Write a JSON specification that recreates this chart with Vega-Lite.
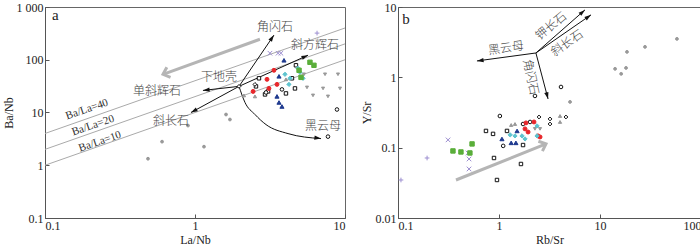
{
  "$schema": "https://vega.github.io/schema/vega-lite/v6.json",
  "padding": {"left": 1, "top": 0, "right": 0, "bottom": 0},
  "background": "white",
  "config": {
    "view": {"stroke": "#666", "strokeWidth": 1},
    "font": "Liberation Serif",
    "axis": {"domainColor": "#555", "tickColor": "#555", "grid": false, "labelFont": "Liberation Serif", "labelFontSize": 12, "labelColor": "#222", "titleFont": "Liberation Serif", "titleFontSize": 12, "titleFontWeight": "normal", "titleColor": "#222", "tickSize": -4, "labelPadding": 7, "labelFlush": false},
    "axisX": {"labelFlush": true, "labelPadding": 6, "titlePadding": 3}
  },
  "datasets": {
    "lines_a": [
      {"k": "40", "x": 0.1, "y": 4}, {"k": "40", "x": 10, "y": 400},
      {"k": "20", "x": 0.1, "y": 2}, {"k": "20", "x": 10, "y": 200},
      {"k": "10", "x": 0.1, "y": 1}, {"k": "10", "x": 10, "y": 100}
    ],
    "ratio_labels": [
      {"t": "Ba/La=40", "x": 0.1905, "y": 11.4},
      {"t": "Ba/La=20", "x": 0.209, "y": 5.65},
      {"t": "Ba/La=10", "x": 0.2326, "y": 2.8}
    ],
    "garrow_a": [{"o": 0, "x": 2.71, "y": 245}, {"o": 1, "x": 0.612, "y": 53}],
    "ghead_a": [{"x": 0.612, "y": 53, "a": -110}],
    "arrows_a": [
      {"id": "hb", "o": 0, "x": 1.965, "y": 31.3}, {"id": "hb", "o": 1, "x": 3.36, "y": 293},
      {"id": "opx", "o": 0, "x": 1.965, "y": 31.3}, {"id": "opx", "o": 1, "x": 5.67, "y": 122},
      {"id": "cpx", "o": 0, "x": 1.965, "y": 31.3}, {"id": "cpx", "o": 1, "x": 1.13, "y": 26.2},
      {"id": "pl", "o": 0, "x": 1.965, "y": 31.3}, {"id": "pl", "o": 1, "x": 0.94, "y": 10.0}
    ],
    "curve_a": [
      {"o": 0, "x": 1.965, "y": 31.3}, {"o": 1, "x": 2.154, "y": 15.5}, {"o": 2, "x": 2.512, "y": 9.16},
      {"o": 3, "x": 2.975, "y": 5.9}, {"o": 4, "x": 4.17, "y": 3.98}, {"o": 5, "x": 6.92, "y": 3.2}
    ],
    "heads_a": [
      {"x": 3.36, "y": 293, "a": 34.5},
      {"x": 5.67, "y": 122, "a": 66},
      {"x": 1.13, "y": 26.2, "a": -96},
      {"x": 0.94, "y": 10.0, "a": -118},
      {"x": 6.92, "y": 3.2, "a": 98}
    ],
    "labels_a": [
      {"t": "角闪石", "x": 3.41, "y": 416, "a": 0},
      {"t": "斜方辉石", "x": 6.31, "y": 189, "a": 0},
      {"t": "单斜辉石", "x": 0.558, "y": 25.1, "a": 0},
      {"t": "斜长石", "x": 0.692, "y": 7.05, "a": 0},
      {"t": "下地壳", "x": 1.445, "y": 46.4, "a": 0},
      {"t": "黑云母", "x": 7.14, "y": 5.65, "a": 0}
    ],
    "letter_a": [{"t": "a", "x": 0.117, "y": 705}],
    "pa": [
      {"s": "gray_dot", "x": 0.486, "y": 1.33}, {"s": "gray_dot", "x": 0.603, "y": 2.8}, {"s": "gray_dot", "x": 0.898, "y": 5.65},
      {"s": "gray_dot", "x": 1.148, "y": 2.25}, {"s": "gray_dot", "x": 1.61, "y": 9.16}, {"s": "gray_dot", "x": 1.71, "y": 7.36},
      {"s": "gray_down", "x": 5.33, "y": 53}, {"s": "gray_down", "x": 7.36, "y": 53}, {"s": "gray_down", "x": 8.98, "y": 53},
      {"s": "gray_down", "x": 5.58, "y": 29.9}, {"s": "gray_down", "x": 7.14, "y": 28.6}, {"s": "gray_down", "x": 9.26, "y": 28.6},
      {"s": "gray_down", "x": 6.12, "y": 21.1}, {"s": "gray_down", "x": 7.7, "y": 20.2},
      {"s": "gray_up", "x": 2.12, "y": 21.1}, {"s": "gray_up", "x": 2.51, "y": 20.2}, {"s": "gray_up", "x": 4.04, "y": 42.5},
      {"s": "open_square", "x": 2.67, "y": 44.5}, {"s": "open_square", "x": 4.71, "y": 78.5}, {"s": "open_square", "x": 4.43, "y": 44.5},
      {"s": "open_square", "x": 2.55, "y": 31.3}, {"s": "open_square", "x": 2.93, "y": 22.0}, {"s": "open_square", "x": 3.07, "y": 25.1},
      {"s": "open_square", "x": 4.04, "y": 23.0}, {"s": "open_square", "x": 4.64, "y": 28.6},
      {"s": "open_circle", "x": 2.975, "y": 24.0}, {"s": "open_circle", "x": 3.8, "y": 27.4}, {"s": "open_circle", "x": 8.84, "y": 11.4},
      {"s": "open_circle", "x": 7.7, "y": 3.49},
      {"s": "open_diamond", "x": 1.965, "y": 31.3}, {"s": "open_diamond", "x": 2.51, "y": 34.1},
      {"s": "red", "x": 3.36, "y": 63.1}, {"s": "red", "x": 3.02, "y": 42.5}, {"s": "red", "x": 2.44, "y": 25.1},
      {"s": "red", "x": 3.11, "y": 28.6}, {"s": "red", "x": 3.52, "y": 34.1},
      {"s": "navy", "x": 3.92, "y": 97.7}, {"s": "navy", "x": 3.63, "y": 48.5}, {"s": "navy", "x": 3.52, "y": 20.2},
      {"s": "navy", "x": 3.63, "y": 15.5}, {"s": "navy", "x": 3.8, "y": 13.0},
      {"s": "cyan", "x": 3.98, "y": 53}, {"s": "cyan", "x": 4.3, "y": 44.5}, {"s": "cyan", "x": 4.23, "y": 34.1},
      {"s": "cyan", "x": 5.01, "y": 57.8}, {"s": "cyan", "x": 4.86, "y": 68.9}, {"s": "cyan", "x": 5.25, "y": 44.5},
      {"s": "green", "x": 5.84, "y": 89.5}, {"s": "green", "x": 6.21, "y": 78.5}, {"s": "green", "x": 4.94, "y": 63.1}, {"s": "green", "x": 5.09, "y": 46.4},
      {"s": "purple_x", "x": 3.16, "y": 133}, {"s": "purple_x", "x": 3.58, "y": 133}, {"s": "purple_x", "x": 3.74, "y": 133},
      {"s": "purple_plus", "x": 6.51, "y": 320}
    ],
    "garrow_b": [{"o": 0, "x": 0.375, "y": 0.0347}, {"o": 1, "x": 2.92, "y": 0.113}],
    "ghead_b": [{"x": 2.92, "y": 0.113, "a": 68}],
    "arrows_b": [
      {"id": "bt", "o": 0, "x": 2.32, "y": 2.22}, {"id": "bt", "o": 1, "x": 0.605, "y": 1.71},
      {"id": "kf", "o": 0, "x": 2.32, "y": 2.22}, {"id": "kf", "o": 1, "x": 7.1, "y": 9.1},
      {"id": "pl", "o": 0, "x": 2.32, "y": 2.22}, {"id": "pl", "o": 1, "x": 8.15, "y": 7.73},
      {"id": "hb", "o": 0, "x": 2.32, "y": 2.22}, {"id": "hb", "o": 1, "x": 3.06, "y": 0.493}
    ],
    "heads_b": [
      {"x": 0.605, "y": 1.71, "a": -98},
      {"x": 7.1, "y": 9.1, "a": 49},
      {"x": 8.15, "y": 7.73, "a": 55},
      {"x": 3.06, "y": 0.493, "a": 165}
    ],
    "labels_b": [
      {"t": "黑云母", "x": 1.173, "y": 2.62, "a": -8},
      {"t": "钾长石", "x": 3.27, "y": 5.38, "a": -40},
      {"t": "斜长石", "x": 4.71, "y": 3.08, "a": -35},
      {"t": "角闪石", "x": 2.07, "y": 1.01, "a": 78}
    ],
    "letter_b": [{"t": "b", "x": 0.12, "y": 6.78}],
    "pb": [
      {"s": "gray_dot", "x": 57.8, "y": 3.52}, {"s": "gray_dot", "x": 27.9, "y": 2.71}, {"s": "gray_dot", "x": 18.5, "y": 2.3},
      {"s": "gray_dot", "x": 18.1, "y": 1.36}, {"s": "gray_dot", "x": 16.2, "y": 1.12}, {"s": "gray_dot", "x": 14.1, "y": 1.32},
      {"s": "gray_dot", "x": 5.05, "y": 0.447},
      {"s": "open_circle", "x": 1.02, "y": 0.282}, {"s": "open_circle", "x": 2.27, "y": 0.544}, {"s": "open_circle", "x": 4.11, "y": 0.73},
      {"s": "open_circle", "x": 1.1, "y": 0.106}, {"s": "open_circle", "x": 2.03, "y": 0.232}, {"s": "open_circle", "x": 1.73, "y": 0.217},
      {"s": "open_diamond", "x": 2.49, "y": 0.273}, {"s": "open_diamond", "x": 3.2, "y": 0.256}, {"s": "open_diamond", "x": 3.2, "y": 0.217},
      {"s": "open_diamond", "x": 4.6, "y": 0.273},
      {"s": "gray_up", "x": 1.32, "y": 0.21}, {"s": "gray_up", "x": 1.44, "y": 0.217}, {"s": "gray_up", "x": 4.02, "y": 0.282}, {"s": "gray_up", "x": 4.02, "y": 0.232},
      {"s": "gray_down", "x": 2.27, "y": 0.185}, {"s": "gray_down", "x": 2.55, "y": 0.185},
      {"s": "red", "x": 1.85, "y": 0.225}, {"s": "red", "x": 2.22, "y": 0.232}, {"s": "red", "x": 1.81, "y": 0.185},
      {"s": "red", "x": 1.94, "y": 0.167}, {"s": "red", "x": 2.43, "y": 0.147}, {"s": "red", "x": 2.55, "y": 0.142},
      {"s": "cyan", "x": 2.38, "y": 0.204}, {"s": "cyan", "x": 1.69, "y": 0.147}, {"s": "cyan", "x": 1.81, "y": 0.133},
      {"s": "cyan", "x": 1.44, "y": 0.147}, {"s": "cyan", "x": 1.29, "y": 0.152}, {"s": "cyan", "x": 2.38, "y": 0.147},
      {"s": "navy", "x": 1.07, "y": 0.133}, {"s": "navy", "x": 1.51, "y": 0.173}, {"s": "navy", "x": 1.32, "y": 0.117}, {"s": "navy", "x": 1.47, "y": 0.117},
      {"s": "open_square", "x": 0.743, "y": 0.173}, {"s": "open_square", "x": 0.873, "y": 0.157}, {"s": "open_square", "x": 1.2, "y": 0.173},
      {"s": "open_square", "x": 1.73, "y": 0.109}, {"s": "open_square", "x": 0.892, "y": 0.0713}, {"s": "open_square", "x": 0.955, "y": 0.0347},
      {"s": "open_square", "x": 1.65, "y": 0.0586},
      {"s": "purple_x", "x": 0.313, "y": 0.129}, {"s": "purple_x", "x": 0.493, "y": 0.0841}, {"s": "purple_x", "x": 0.505, "y": 0.069},
      {"s": "purple_x", "x": 0.505, "y": 0.0498},
      {"s": "purple_plus", "x": 0.194, "y": 0.0713}, {"s": "purple_plus", "x": 0.107, "y": 0.0347},
      {"s": "green", "x": 0.541, "y": 0.113}, {"s": "green", "x": 0.35, "y": 0.0898}, {"s": "green", "x": 0.42, "y": 0.0869}, {"s": "green", "x": 0.515, "y": 0.0841}
    ]
  },
  "hconcat": [
    {
      "width": 300,
      "height": 211,
      "encoding": {
        "x": {"field": "x", "type": "quantitative", "scale": {"type": "log", "domain": [0.1, 10], "nice": false}, "axis": {"title": "La/Nb", "values": [0.1, 1, 10], "format": "~g"}},
        "y": {"field": "y", "type": "quantitative", "scale": {"type": "log", "domain": [0.1, 1000], "nice": false}, "axis": {"title": "Ba/Nb", "values": [0.1, 1, 10, 100, 1000], "format": "~g", "labelExpr": "datum.value >= 1000 ? '1 000' : datum.label", "titlePadding": 1, "labelPadding": 6}}
      },
      "layer": [
        {"data": {"name": "lines_a"}, "mark": {"type": "line", "color": "#aaaaaa", "strokeWidth": 1}, "encoding": {"detail": {"field": "k"}}},
        {"data": {"name": "ratio_labels"}, "mark": {"type": "text", "angle": -19, "font": "Liberation Serif", "fontSize": 11, "color": "#333"}, "encoding": {"text": {"field": "t"}}},
        {"data": {"name": "garrow_a"}, "mark": {"type": "line", "color": "#b5b5b5", "strokeWidth": 3}, "encoding": {"order": {"field": "o"}}},
        {"data": {"name": "ghead_a"}, "mark": {"type": "point", "shape": "M-0.8,0.9L0,0L0.8,0.9", "filled": false, "color": "#b5b5b5", "strokeWidth": 3, "size": 180, "opacity": 1}, "encoding": {"angle": {"field": "a", "type": "quantitative", "scale": null}}},
        {"data": {"name": "arrows_a"}, "mark": {"type": "line", "color": "#111", "strokeWidth": 1}, "encoding": {"detail": {"field": "id"}, "order": {"field": "o"}}},
        {"data": {"name": "curve_a"}, "mark": {"type": "line", "color": "#111", "strokeWidth": 1, "interpolate": "monotone"}, "encoding": {"order": {"field": "o"}}},
        {"data": {"name": "heads_a"}, "mark": {"type": "point", "shape": "M0,0L-0.45,1.4L0.45,1.4Z", "filled": true, "color": "#111", "size": 90, "opacity": 1}, "encoding": {"angle": {"field": "a", "type": "quantitative", "scale": null}}},
        {"data": {"name": "pa"}, "mark": {"type": "point", "filled": true, "opacity": 1, "strokeWidth": 1},
          "encoding": {
            "shape": {"field": "s", "type": "nominal", "legend": null, "scale": {"domain": ["gray_dot", "gray_down", "gray_up", "open_square", "open_circle", "open_diamond", "red", "navy", "cyan", "green", "purple_x", "purple_plus"], "range": ["circle", "triangle-down", "triangle-up", "square", "circle", "diamond", "circle", "triangle-up", "diamond", "square", "M-1,-1L1,1M-1,1L1,-1", "M-1,0L1,0M0,-1L0,1"]}},
            "fill": {"field": "s", "type": "nominal", "legend": null, "scale": {"domain": ["gray_dot", "gray_down", "gray_up", "open_square", "open_circle", "open_diamond", "red", "navy", "cyan", "green", "purple_x", "purple_plus"], "range": ["#999999", "#999999", "#999999", "#ffffff", "#ffffff", "#ffffff", "#e8262a", "#1f3a8f", "#5ec4cf", "#5aae3a", "transparent", "transparent"]}},
            "stroke": {"field": "s", "type": "nominal", "legend": null, "scale": {"domain": ["gray_dot", "gray_down", "gray_up", "open_square", "open_circle", "open_diamond", "red", "navy", "cyan", "green", "purple_x", "purple_plus"], "range": ["#999999", "#999999", "#999999", "#111111", "#111111", "#111111", "#e8262a", "#1f3a8f", "#5ec4cf", "#5aae3a", "#9d8fd0", "#9d8fd0"]}},
            "size": {"field": "s", "type": "nominal", "legend": null, "scale": {"domain": ["gray_dot", "gray_down", "gray_up", "open_square", "open_circle", "open_diamond", "red", "navy", "cyan", "green", "purple_x", "purple_plus"], "range": [8, 22, 22, 24, 20, 24, 22, 22, 24, 26, 12, 18]}}
          }},
        {"data": {"name": "labels_a"}, "mark": {"type": "text", "font": "Noto Sans CJK SC", "fontSize": 12, "fontWeight": 300, "color": "#444"}, "encoding": {"text": {"field": "t"}, "angle": {"field": "a", "type": "quantitative", "scale": null}}},
        {"data": {"name": "letter_a"}, "mark": {"type": "text", "font": "Liberation Serif", "fontSize": 15, "color": "#222"}, "encoding": {"text": {"field": "t"}}}
      ]
    },
    {
      "width": 303,
      "height": 211,
      "encoding": {
        "x": {"field": "x", "type": "quantitative", "scale": {"type": "log", "domain": [0.1, 100], "nice": false}, "axis": {"title": "Rb/Sr", "values": [0.1, 1, 10, 100], "format": "~g"}},
        "y": {"field": "y", "type": "quantitative", "scale": {"type": "log", "domain": [0.01, 10], "nice": false}, "axis": {"title": "Y/Sr", "values": [0.01, 0.1, 1, 10], "format": "~g", "titlePadding": 2, "labelPadding": 6}}
      },
      "layer": [
        {"data": {"name": "garrow_b"}, "mark": {"type": "line", "color": "#b5b5b5", "strokeWidth": 3}, "encoding": {"order": {"field": "o"}}},
        {"data": {"name": "ghead_b"}, "mark": {"type": "point", "shape": "M-0.8,0.9L0,0L0.8,0.9", "filled": false, "color": "#b5b5b5", "strokeWidth": 3, "size": 180, "opacity": 1}, "encoding": {"angle": {"field": "a", "type": "quantitative", "scale": null}}},
        {"data": {"name": "arrows_b"}, "mark": {"type": "line", "color": "#111", "strokeWidth": 1}, "encoding": {"detail": {"field": "id"}, "order": {"field": "o"}}},
        {"data": {"name": "heads_b"}, "mark": {"type": "point", "shape": "M0,0L-0.45,1.4L0.45,1.4Z", "filled": true, "color": "#111", "size": 90, "opacity": 1}, "encoding": {"angle": {"field": "a", "type": "quantitative", "scale": null}}},
        {"data": {"name": "pb"}, "mark": {"type": "point", "filled": true, "opacity": 1, "strokeWidth": 1},
          "encoding": {
            "shape": {"field": "s", "type": "nominal", "legend": null, "scale": {"domain": ["gray_dot", "gray_down", "gray_up", "open_square", "open_circle", "open_diamond", "red", "navy", "cyan", "green", "purple_x", "purple_plus"], "range": ["circle", "triangle-down", "triangle-up", "square", "circle", "diamond", "circle", "triangle-up", "diamond", "square", "M-1,-1L1,1M-1,1L1,-1", "M-1,0L1,0M0,-1L0,1"]}},
            "fill": {"field": "s", "type": "nominal", "legend": null, "scale": {"domain": ["gray_dot", "gray_down", "gray_up", "open_square", "open_circle", "open_diamond", "red", "navy", "cyan", "green", "purple_x", "purple_plus"], "range": ["#999999", "#999999", "#999999", "#ffffff", "#ffffff", "#ffffff", "#e8262a", "#1f3a8f", "#5ec4cf", "#5aae3a", "transparent", "transparent"]}},
            "stroke": {"field": "s", "type": "nominal", "legend": null, "scale": {"domain": ["gray_dot", "gray_down", "gray_up", "open_square", "open_circle", "open_diamond", "red", "navy", "cyan", "green", "purple_x", "purple_plus"], "range": ["#999999", "#999999", "#999999", "#111111", "#111111", "#111111", "#e8262a", "#1f3a8f", "#5ec4cf", "#5aae3a", "#9d8fd0", "#9d8fd0"]}},
            "size": {"field": "s", "type": "nominal", "legend": null, "scale": {"domain": ["gray_dot", "gray_down", "gray_up", "open_square", "open_circle", "open_diamond", "red", "navy", "cyan", "green", "purple_x", "purple_plus"], "range": [8, 22, 22, 24, 20, 24, 22, 22, 24, 26, 12, 18]}}
          }},
        {"data": {"name": "labels_b"}, "mark": {"type": "text", "font": "Noto Sans CJK SC", "fontSize": 12, "fontWeight": 300, "color": "#444"}, "encoding": {"text": {"field": "t"}, "angle": {"field": "a", "type": "quantitative", "scale": null}}},
        {"data": {"name": "letter_b"}, "mark": {"type": "text", "font": "Liberation Serif", "fontSize": 15, "color": "#222"}, "encoding": {"text": {"field": "t"}}}
      ]
    }
  ],
  "bounds": "flush",
  "spacing": 53,
  "resolve": {"scale": {"x": "independent", "y": "independent"}}
}
